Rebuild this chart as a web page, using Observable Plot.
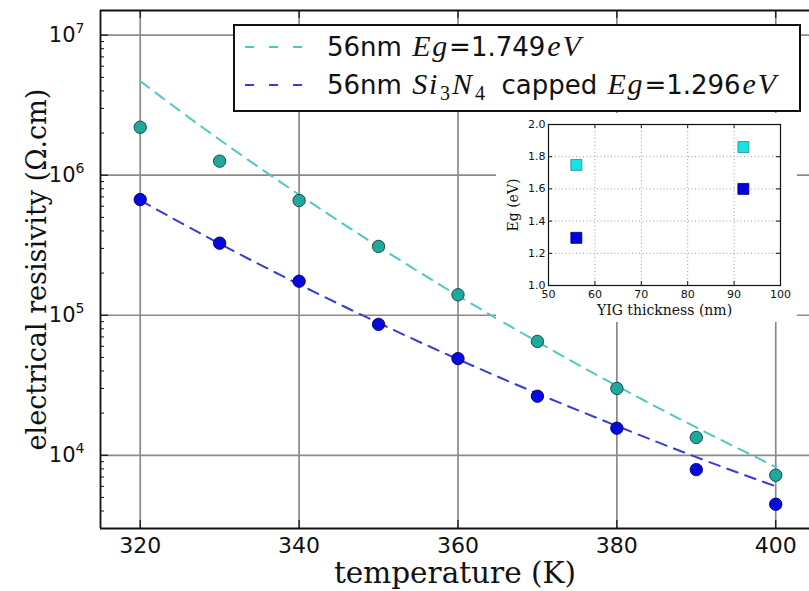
<!DOCTYPE html>
<html><head><meta charset="utf-8">
<script src="https://cdn.jsdelivr.net/npm/d3@7"></script>
<script src="https://cdn.jsdelivr.net/npm/@observablehq/plot@0.6"></script>
<style>
body{margin:0;background:#fff;}
#wrap{position:relative;width:809px;height:591px;overflow:hidden;background:#fff;}
#main,#inset,#legend{position:absolute;}
#main{left:0;top:0;}
#legend{left:233px;top:24px;}
#inset{left:496px;top:113px;}
</style></head><body>
<div id="wrap"><div id="main"></div><div id="legend"></div><div id="inset"></div></div>
<script>
// ---- main chart data ----
const temps = [320, 330, 340, 350, 360, 370, 380, 390, 400];
const rho56 = [2.2e6, 1.26e6, 6.6e5, 3.1e5, 1.4e5, 6.5e4, 3.0e4, 1.34e4, 7.2e3];
const rho56cap = [6.7e5, 3.27e5, 1.75e5, 8.6e4, 4.9e4, 2.64e4, 1.56e4, 7.9e3, 4.47e3];
const fit56 = [4.69e6, 1.79e6, 7.26e5, 3.09e5, 1.38e5, 6.46e4, 3.13e4, 1.58e4, 8.26e3];
const fit56cap = [6.61e5, 3.24e5, 1.66e5, 8.81e4, 4.85e4, 2.76e4, 1.62e4, 9.7e3, 6.0e3];
const xTicks = [320, 340, 360, 380, 400];
const yTicks = [1e4, 1e5, 1e6, 1e7];
const yMinor = [3e3,4e3,5e3,6e3,7e3,8e3,9e3, 2e4,3e4,4e4,5e4,6e4,7e4,8e4,9e4,
                2e5,3e5,4e5,5e5,6e5,7e5,8e5,9e5, 2e6,3e6,4e6,5e6,6e6,7e6,8e6,9e6];
const xDomain = [315, 404.25];
const yDomain = [3000, 1.5e7];
const xLabel = "temperature (K)";
const yLabel = "electrical resisivity (\u03A9.cm)";

// ---- inset data ----
const insetThickness = [56, 92];
const insetEgBare = [1.749, 1.86];
const insetEgCapped = [1.296, 1.60];
const insetXTicks = [50, 60, 70, 80, 90, 100];
const insetYTicks = [1.0, 1.2, 1.4, 1.6, 1.8, 2.0];
const insetXLabel = "YIG thickness (nm)";
const insetYLabel = "Eg (eV)";

// ---- colours ----
const tealFill = "#1fa99c", tealLine = "#4ccac0";
const blueFill = "#0808e0", blueLine = "#3a3ad8";

const W = 809, H = 591, mL = 100, mT = 10, mB = 63, mR = 0;
const innerW = W - mL - mR, innerH = H - mT - mB;

const pts = temps.flatMap((t, i) => [
  {t, r: rho56[i], s: "bare"}, {t, r: rho56cap[i], s: "cap"}]);
const fits = temps.flatMap((t, i) => [
  {t, r: fit56[i], s: "bare"}, {t, r: fit56cap[i], s: "cap"}]);

const gridStyle = {stroke: "#8a8a8a", strokeOpacity: 1, strokeWidth: 1.7};

const main = Plot.plot({
  width: W, height: H, marginLeft: mL, marginTop: mT, marginBottom: mB, marginRight: mR,
  style: {fontFamily: "DejaVu Sans", background: "white", color: "#111"},
  x: {domain: xDomain},
  y: {type: "log", domain: yDomain},
  marks: [
    Plot.gridX(xTicks, gridStyle),
    Plot.gridY(yTicks, gridStyle),
    Plot.axisX(xTicks, {tickSize: 0, tickPadding: 9, fontSize: 22, tickFormat: d => String(d), label: null}),
    Plot.axisY(yTicks, {tickSize: 0, tickPadding: 16, fontSize: 21,
      tickFormat: d => "10|" + Math.round(Math.log10(d)), label: null}),
    // inside ticks
    Plot.tickY(yTicks, {y: d => d, insetRight: innerW - 8, stroke: "#111", strokeWidth: 1.2}),
    Plot.tickY(yMinor, {y: d => d, insetRight: innerW - 4, stroke: "#111", strokeWidth: 1}),
    Plot.tickX(xTicks, {x: d => d, insetBottom: innerH - 8, stroke: "#111", strokeWidth: 1.2}),
    Plot.tickX(xTicks, {x: d => d, insetTop: innerH - 8, stroke: "#111", strokeWidth: 1.2}),
    // frame (left, top, bottom)
    Plot.ruleX([xDomain[0]], {stroke: "#111", strokeWidth: 1.8}),
    Plot.ruleY(yDomain, {stroke: "#111", strokeWidth: 1.8}),
    // fits
    Plot.line(fits, {x: "t", y: "r", z: "s", stroke: d => d.s === "bare" ? tealLine : blueLine,
      strokeWidth: 2, strokeDasharray: "11,8", curve: "monotone-x"}),
    // points
    Plot.dot(pts, {x: "t", y: "r", r: 6.2, fill: d => d.s === "bare" ? tealFill : blueFill,
      stroke: d => d.s === "bare" ? "#0b3f3a" : "#000060", strokeWidth: 0.9}),
    // axis titles
    Plot.text([xLabel], {frameAnchor: "bottom", dy: 54, fontSize: 29.5, fontFamily: "DejaVu Serif", fill: "#111"}),
    Plot.text([yLabel], {frameAnchor: "left", textAnchor: "middle", rotate: -90, dx: -63, fontSize: 27, fontFamily: "DejaVu Serif", fill: "#111"})
  ]
});

// superscript exponents on y tick labels
main.querySelectorAll('g[aria-label="y-axis tick label"] text').forEach(t => {
  const s = t.textContent;
  if (!s.includes("|")) return;
  const [b, e] = s.split("|");
  t.textContent = "";
  const NS = "http://www.w3.org/2000/svg";
  const t1 = document.createElementNS(NS, "tspan"); t1.textContent = b;
  const t2 = document.createElementNS(NS, "tspan"); t2.textContent = e;
  t2.setAttribute("dy", "-9"); t2.setAttribute("font-size", "14");
  t.appendChild(t1); t.appendChild(t2);
});
document.getElementById("main").appendChild(main);

// ---- legend ----
const legendEntries = [
  {color: tealLine, parts: [["56nm ", "n"], ["Eg", "i"], ["=1.749", "n"], ["eV", "i"]]},
  {color: blueLine, parts: [["56nm ", "n"], ["Si", "i"], ["3", "sub"], ["N", "i"], ["4", "sub"],
    ["  capped ", "n"], ["Eg", "i"], ["=1.296", "n"], ["eV", "i"]]}
];
const lg = d3.create("svg").attr("width", 568).attr("height", 88);
lg.append("rect").attr("x", 1).attr("y", 1).attr("width", 566).attr("height", 86)
  .attr("fill", "white").attr("stroke", "#111").attr("stroke-width", 2);
legendEntries.forEach((e, i) => {
  const cy = 23 + i * 38;
  lg.append("line").attr("x1", 12).attr("x2", 70).attr("y1", cy).attr("y2", cy)
    .attr("stroke", e.color).attr("stroke-width", 2).attr("stroke-dasharray", "9,15");
  const tx = lg.append("text").attr("x", 94).attr("y", cy + 9)
    .attr("font-family", "DejaVu Sans").attr("font-size", 26).attr("fill", "#111")
    .style("white-space", "pre");
  let shifted = false;
  e.parts.forEach(([txt, kind]) => {
    const sp = tx.append("tspan").text(txt);
    let dy = 0;
    if (kind === "i") sp.attr("font-family", "Liberation Serif").attr("font-style", "italic").attr("font-size", 30)
      .attr("letter-spacing", 1.8).attr("dx", 2);
    if (kind === "sub") { sp.attr("font-family", "Liberation Serif").attr("font-size", 20).attr("dx", 1); if (!shifted) { dy = 6; shifted = true; } }
    else if (shifted) { dy = -6; shifted = false; }
    if (dy) sp.attr("dy", dy);
  });
});
document.getElementById("legend").appendChild(lg.node());

// ---- inset ----
const iW = 301, iH = 209, imL = 52, imT = 11, imR = 17, imB = 37;
const iInnerW = iW - imL - imR, iInnerH = iH - imT - imB;
const insetPts = insetThickness.flatMap((x, i) => [
  {x, eg: insetEgBare[i], s: "bare"}, {x, eg: insetEgCapped[i], s: "cap"}]);
const inset = Plot.plot({
  width: iW, height: iH, marginLeft: imL, marginTop: imT, marginRight: imR, marginBottom: imB,
  style: {background: "white", fontFamily: "DejaVu Sans", color: "#111"},
  x: {domain: [50, 100]},
  y: {domain: [1, 2]},
  marks: [
    Plot.gridX(insetXTicks, {stroke: "#9a9a9a", strokeOpacity: 1, strokeDasharray: "1,2.5"}),
    Plot.gridY(insetYTicks, {stroke: "#9a9a9a", strokeOpacity: 1, strokeDasharray: "1,2.5"}),
    Plot.axisX(insetXTicks, {tickSize: 0, tickPadding: 5, fontSize: 11, label: null}),
    Plot.axisY(insetYTicks, {tickSize: 0, tickPadding: 3, fontSize: 11, tickFormat: d => d.toFixed(1), label: null}),
    Plot.tickX(insetXTicks, {x: d => d, insetTop: iInnerH - 4, stroke: "#111"}),
    Plot.tickX(insetXTicks, {x: d => d, insetBottom: iInnerH - 4, stroke: "#111"}),
    Plot.tickY(insetYTicks, {y: d => d, insetRight: iInnerW - 4, stroke: "#111"}),
    Plot.tickY(insetYTicks, {y: d => d, insetLeft: iInnerW - 4, stroke: "#111"}),
    Plot.frame({stroke: "#111", strokeWidth: 1.2}),
    Plot.dot(insetPts, {x: "x", y: "eg", symbol: "square", r: 6.2,
      fill: d => d.s === "bare" ? "#15e4e4" : "#0000e0",
      stroke: d => d.s === "bare" ? "#2a8a8a" : "#00006a", strokeWidth: 0.8}),
    Plot.text([insetXLabel], {frameAnchor: "bottom", dy: 29, fontSize: 14, fontFamily: "DejaVu Serif", fill: "#111"}),
    Plot.text([insetYLabel], {frameAnchor: "left", textAnchor: "middle", rotate: -90, dx: -35, fontSize: 14, fontFamily: "DejaVu Serif", fill: "#111"})
  ]
});
document.getElementById("inset").appendChild(inset);
</script>
</body></html>
